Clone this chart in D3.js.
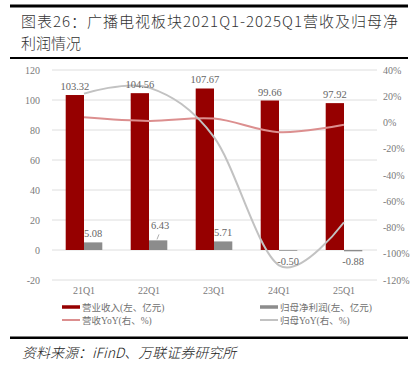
<!DOCTYPE html>
<html lang="zh">
<head>
<meta charset="UTF-8">
<script src="https://cdn.jsdelivr.net/npm/d3@7"></script>
<title>广播电视板块</title>
<style>
	body { margin: 0; background: #fff; }
	text { font-family: "Liberation Serif", "Noto Sans CJK SC", serif; }
</style>
</head>
<body>
<svg id="chart" width="413" height="369"></svg>
<script>
	// 数据
	let cats = ['21Q1', '22Q1', '23Q1', '24Q1', '25Q1']
	let revenue = [103.32, 104.56, 107.67, 99.66, 97.92]
	let netProfit = [5.08, 6.43, 5.71, -0.50, -0.88]
	let revYoY = [4.0, 1.2, 3.0, -7.4, -1.7]
	let netYoY = [22.0, 26.6, -11.2, -108.8, -76.0]
	let leftTicks = [-20, 0, 20, 40, 60, 80, 100, 120]
	let rightTicks = [-120, -100, -80, -60, -40, -20, 0, 20, 40]

	let svg = d3.select('#chart')
	let red = '#960000', grey = '#8c8c8c'
	let redLine = '#dc8f8f', greyLine = '#c2c2c2'
	let txt = '#7a7a7a'

	// 标题
	svg.append('rect').attr('x', 10).attr('y', 4.5).attr('width', 398).attr('height', 3).attr('fill', '#000')
	svg.append('text').attr('x', 21).attr('y', 27).attr('font-size', 15)
		.attr('textLength', 377).attr('lengthAdjust', 'spacing')
		.style('font-family', '"Noto Sans CJK SC"').style('font-weight', 300).attr('fill', '#333')
		.text('图表26：广播电视板块2021Q1-2025Q1营收及归母净')
	svg.append('text').attr('x', 21).attr('y', 49).attr('font-size', 15)
		.style('font-family', '"Noto Sans CJK SC"').style('font-weight', 300).attr('fill', '#333')
		.text('利润情况')
	svg.append('rect').attr('x', 10).attr('y', 57).attr('width', 398).attr('height', 2).attr('fill', '#000')

	let x = d3.scaleBand().domain(cats).range([51.5, 376.5])
	let sub = d3.scaleBand().domain(['rev', 'net']).range([-18.3, 18.3])
	let yL = d3.scaleLinear().domain([-20, 120]).range([280, 70])
	let yR = d3.scaleLinear().domain([-120, 40]).range([280, 70])
	let cx = c => x(c) + x.bandwidth() / 2

	// 网格
	svg.append('g').selectAll('line').data(leftTicks).join('line')
		.attr('x1', 52).attr('x2', 377)
		.attr('y1', d => yL(d)).attr('y2', d => yL(d))
		.attr('stroke', '#dedede').attr('stroke-width', 1)

	// 坐标轴
	svg.append('g').selectAll('text').data(leftTicks).join('text')
		.attr('x', 40).attr('y', d => yL(d) + 3.5)
		.attr('text-anchor', 'end').attr('font-size', 10).attr('fill', txt)
		.text(d => d)
	svg.append('g').selectAll('text').data(rightTicks).join('text')
		.attr('x', 383).attr('y', d => yR(d) + 3.5)
		.attr('font-size', 10).attr('fill', txt)
		.text(d => d + '%')
	svg.append('g').selectAll('text').data(cats).join('text')
		.attr('x', d => cx(d)).attr('y', 294)
		.attr('text-anchor', 'middle').attr('font-size', 10).attr('fill', txt)
		.text(d => d)

	// 柱
	svg.append('g').selectAll('rect').data(revenue).join('rect')
		.attr('x', (d, i) => cx(cats[i]) + sub('rev'))
		.attr('width', sub.bandwidth())
		.attr('y', d => yL(d)).attr('height', d => yL(0) - yL(d))
		.attr('fill', red)
	svg.append('g').selectAll('rect').data(netProfit).join('rect')
		.attr('x', (d, i) => cx(cats[i]) + sub('net'))
		.attr('width', sub.bandwidth())
		.attr('y', d => yL(Math.max(d, 0))).attr('height', d => Math.abs(yL(0) - yL(d)))
		.attr('fill', grey)

	// 折线
	let line = d3.line().x((d, i) => cx(cats[i])).y(d => yR(d)).curve(d3.curveCardinal.tension(0))
	svg.append('path').attr('d', line(revYoY)).attr('fill', 'none')
		.attr('stroke', redLine).attr('stroke-width', 2)
	svg.append('path').attr('d', line(netYoY)).attr('fill', 'none')
		.attr('stroke', greyLine).attr('stroke-width', 2)

	// 数据标签
	svg.append('g').selectAll('text').data(revenue).join('text')
		.attr('x', (d, i) => cx(cats[i]) + sub('rev') + sub.bandwidth() / 2)
		.attr('y', d => yL(d) - 5)
		.attr('text-anchor', 'middle').attr('font-size', 10.5).attr('fill', '#666')
		.text(d => d.toFixed(2))
	let lift = [0, 6, 0, 0, 0]
	svg.append('g').selectAll('text').data(netProfit).join('text')
		.attr('x', (d, i) => cx(cats[i]) + sub('net') + sub.bandwidth() / 2 + (i == 1 ? 2 : 0))
		.attr('y', (d, i) => d >= 0 ? yL(d) - 5 - lift[i] : yL(d) + 14)
		.attr('text-anchor', 'middle').attr('font-size', 10.5).attr('fill', '#666')
		.text(d => d.toFixed(2))
	// 6.43 引导线
	svg.append('line')
		.attr('x1', cx(cats[1]) + 8).attr('y1', yL(netProfit[1]) - 1)
		.attr('x2', cx(cats[1]) + 10).attr('y2', yL(netProfit[1]) - 6)
		.attr('stroke', '#999').attr('stroke-width', 0.8)

	// 图例
	let legend = [
		{ name: '营业收入(左、亿元)', color: red, h: 3.5, x: 62, y: 307 },
		{ name: '归母净利润(左、亿元)', color: grey, h: 3.5, x: 260, y: 307 },
		{ name: '营收YoY(右、%)', color: redLine, h: 2, x: 62, y: 320 },
		{ name: '归母YoY(右、%)', color: greyLine, h: 2, x: 260, y: 320 },
	]
	let lg = svg.append('g').selectAll('g').data(legend).join('g')
	lg.append('rect').attr('x', d => d.x).attr('y', d => d.y - d.h / 2)
		.attr('width', 18).attr('height', d => d.h).attr('fill', d => d.color)
	lg.append('text').attr('x', d => d.x + 20).attr('y', d => d.y + 3.5)
		.attr('font-size', 9.5).attr('fill', '#707070')
		.text(d => d.name)

	// 来源
	svg.append('rect').attr('x', 10).attr('y', 336.5).attr('width', 398).attr('height', 2.5).attr('fill', '#000')
	svg.append('text').attr('x', 22).attr('y', 358).attr('font-size', 14)
		.attr('font-style', 'italic').attr('fill', '#222')
		.style('font-family', '"Noto Sans CJK SC"').style('font-weight', 300)
		.text('资料来源：iFinD、万联证券研究所')
</script>
</body>
</html>
